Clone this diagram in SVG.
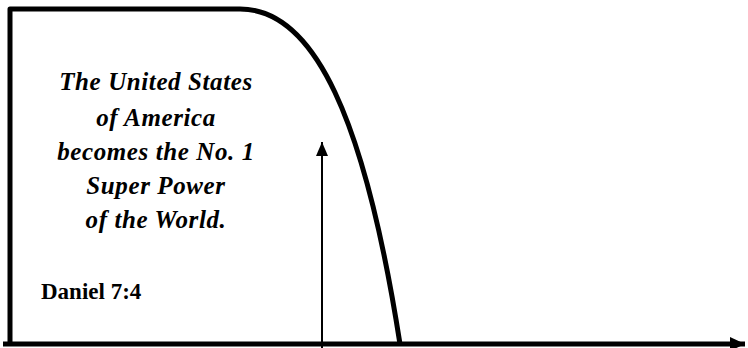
<svg xmlns="http://www.w3.org/2000/svg" width="748" height="348" viewBox="0 0 748 348">
<style>
.shape{fill:none;stroke:#000;stroke-width:5;stroke-linejoin:round}
.title{font-family:"Liberation Serif",serif;font-style:italic;font-weight:bold;font-size:25px;letter-spacing:0.6px;text-anchor:middle;fill:#000}
.ref{font-family:"Liberation Serif",serif;font-weight:bold;font-size:23px;fill:#000}
</style>
<defs>
<marker id="ah" markerUnits="userSpaceOnUse" markerWidth="16" markerHeight="12" refX="14" refY="6" orient="auto">
<path d="M0,0 L14,6 L0,12 Z" fill="#000"/>
</marker>
<marker id="ah2" markerUnits="userSpaceOnUse" markerWidth="16" markerHeight="14" refX="15" refY="7" orient="auto">
<path d="M0,0 L15,7 L0,14 Z" fill="#000"/>
</marker>
</defs>
<g id="curve">
<path class="shape" d="M400,344 C365,120 315,9 240,9 L10,9 L10,344"/>
</g>
<g id="connectors">
<line x1="3" y1="344" x2="745" y2="344" stroke="#000" stroke-width="5" marker-end="url(#ah2)"/>
<line x1="322" y1="348" x2="322" y2="142" stroke="#000" stroke-width="2" marker-end="url(#ah)"/>
</g>
<g id="label">
<text class="title" x="156" y="90">The United States</text>
<text class="title" x="156" y="126">of America</text>
<text class="title" x="156" y="160">becomes the No. 1</text>
<text class="title" x="156" y="194">Super Power</text>
<text class="title" x="156" y="228">of the World.</text>
<text class="ref" x="41" y="299">Daniel 7:4</text>
</g>
</svg>
